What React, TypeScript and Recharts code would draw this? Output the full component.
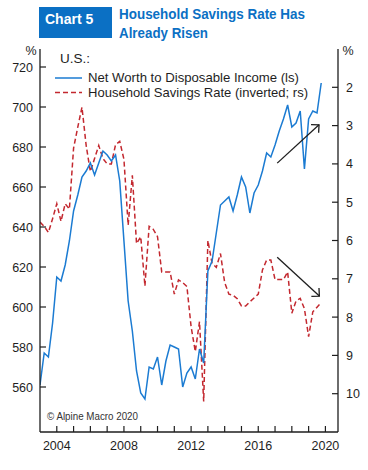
import React from 'react';
import { ComposedChart, Line, XAxis, YAxis, ReferenceLine } from 'recharts';

// quarterly, first point = 2003Q1
const START_YEAR = 2003;

// Net worth to disposable income, % (left scale)
const NET_WORTH = [
  561, 577, 575, 592, 615, 613, 621, 633,
  648, 656, 665, 668, 672, 666, 672, 678,
  676, 673, 676, 663, 633, 603, 588, 568,
  557, 554, 570, 569, 575, 561, 573, 581,
  580, 579, 560, 567, 570, 564, 579, 572,
  618, 623, 637, 651, 653, 655, 648, 656,
  665, 660, 647, 657, 661, 668, 677, 675,
  681, 688, 694, 701, 690, 692, 698, 669,
  694, 698, 697, 712,
];

// Household savings rate, % (right scale, inverted)
const SAVINGS_RATE = [
  5.52, 5.63, 5.79, 5.43, 5.04, 5.5, 5.04, 5.18,
  3.59, 3.04, 2.52, 3.52, 4.2, 3.86, 3.52, 3.86,
  4.0, 4.0, 3.5, 3.41, 3.88, 5.6, 4.3, 6.08,
  5.9, 7.19, 5.63, 5.71, 5.9, 6.82, 6.82, 6.82,
  7.4, 7.03, 7.1, 7.2, 8.25, 8.9, 8.12, 10.2,
  6.0, 6.6, 6.7, 6.34, 7.1, 7.4, 7.43, 7.52,
  7.71, 7.71, 7.6, 7.5, 7.4, 6.77, 6.51, 6.51,
  7.02, 7.02, 7.02, 6.82, 7.9, 7.58, 7.51, 7.78,
  8.51, 7.86, 7.74, 7.62,
];

const YEAR_TICKS = [2004, 2005, 2006, 2007, 2008, 2009, 2010, 2011, 2012, 2013, 2014, 2015, 2016, 2017, 2018, 2019, 2020];
const YEAR_LABELS = [2004, 2008, 2012, 2016, 2020];
const LEFT_TICKS = [560, 580, 600, 620, 640, 660, 680, 700, 720];
const RIGHT_TICKS = [2, 3, 4, 5, 6, 7, 8, 9, 10];

// trend arrows, drawn on the right scale: [x1, y1, x2, y2]
const ARROWS = [
  [2017.13, 3.98, 2019.62, 2.98],
  [2017.13, 6.44, 2019.64, 7.45],
];

const data = NET_WORTH.map((nw, i) => ({
  t: START_YEAR + i / 4,
  nw,
  sr: SAVINGS_RATE[i],
}));

const BLUE = '#1b7bd2';
const RED = '#c3282f';
const HEAD_BLUE = '#0b70c4';
const INK = '#1e1e1e';
const FONT = '"Liberation Sans", Arial, sans-serif';

const XTick = (p: any) => {
  const { x, y, payload } = p;
  const show = YEAR_LABELS.includes(payload.value);
  return (
    <g>
      <line x1={x} x2={x} y1={y} y2={y - 6} stroke={INK} strokeWidth={1.2} />
      {show && (
        <text x={x} y={y + 18} textAnchor="middle" fontSize={12.5} fill={INK} fontFamily={FONT}>
          {payload.value}
        </text>
      )}
    </g>
  );
};

const LeftTick = (p: any) => {
  const { x, y, payload } = p;
  return (
    <g>
      <line x1={x} x2={x + 6} y1={y} y2={y} stroke={INK} strokeWidth={1.2} />
      <text x={x - 7} y={y + 4.5} textAnchor="end" fontSize={12.5} fill={INK} fontFamily={FONT}>
        {payload.value}
      </text>
    </g>
  );
};

const RightTick = (p: any) => {
  const { x, y, payload } = p;
  return (
    <g>
      <line x1={x} x2={x - 6} y1={y} y2={y} stroke={INK} strokeWidth={1.2} />
      <text x={x + 8} y={y + 4.5} textAnchor="start" fontSize={12.5} fill={INK} fontFamily={FONT}>
        {payload.value}
      </text>
    </g>
  );
};

const Arrow = (p: any) => {
  const { x1, y1, x2, y2 } = p;
  const a = Math.atan2(y2 - y1, x2 - x1);
  const h = 8;
  const w = 0.78;
  const ax = x2 - h * Math.cos(a - w);
  const ay = y2 - h * Math.sin(a - w);
  const bx = x2 - h * Math.cos(a + w);
  const by = y2 - h * Math.sin(a + w);
  return (
    <g>
      <line x1={x1} y1={y1} x2={x2} y2={y2} stroke={INK} strokeWidth={1.3} />
      <polyline points={`${ax},${ay} ${x2},${y2} ${bx},${by}`} fill="none" stroke={INK} strokeWidth={1.3} />
    </g>
  );
};

const axisLine = { stroke: INK, strokeWidth: 1.3 };

export default function App() {
  return (
    <div style={{ position: 'absolute', left: 0, top: 0, width: 368, height: 470, background: '#fff', fontFamily: FONT }}>
      <ComposedChart width={368} height={470} data={data} margin={{ top: 49, right: 0, bottom: 18, left: 0 }}>
        <XAxis
          dataKey="t"
          type="number"
          domain={[2003, 2020.75]}
          allowDataOverflow
          ticks={YEAR_TICKS}
          interval={0}
          tickSize={0}
          tickMargin={0}
          height={20}
          axisLine={axisLine}
          tickLine={false}
          tick={XTick}
        />
        <XAxis
          xAxisId="top"
          orientation="top"
          dataKey="t"
          type="number"
          domain={[2003, 2020.75]}
          allowDataOverflow
          height={0}
          axisLine={axisLine}
          tickLine={false}
          tick={false}
        />
        <YAxis
          yAxisId="left"
          type="number"
          domain={[537.5, 729]}
          allowDataOverflow
          ticks={LEFT_TICKS}
          interval={0}
          width={40}
          tickSize={0}
          tickMargin={0}
          axisLine={axisLine}
          tickLine={false}
          tick={LeftTick}
        />
        <YAxis
          yAxisId="right"
          orientation="right"
          type="number"
          domain={[1, 11]}
          reversed
          allowDataOverflow
          ticks={RIGHT_TICKS}
          interval={0}
          width={30}
          tickSize={0}
          tickMargin={0}
          axisLine={axisLine}
          tickLine={false}
          tick={RightTick}
        />
        <Line
          yAxisId="right"
          type="linear"
          dataKey="sr"
          stroke={RED}
          strokeWidth={1.5}
          strokeDasharray="5 3"
          dot={false}
          isAnimationActive={false}
        />
        <Line
          yAxisId="left"
          type="linear"
          dataKey="nw"
          stroke={BLUE}
          strokeWidth={1.5}
          dot={false}
          isAnimationActive={false}
        />
        {ARROWS.map((a, i) => (
          <ReferenceLine
            key={i}
            yAxisId="right"
            segment={[{ x: a[0], y: a[1] }, { x: a[2], y: a[3] }]}
            shape={Arrow}
          />
        ))}
      </ComposedChart>

      <svg width={368} height={470} style={{ position: 'absolute', left: 0, top: 0, pointerEvents: 'none' }}>
        <rect x={39} y={7} width={73} height={31} fill={HEAD_BLUE} />
        <text x={45} y={24} fontSize={14} fontWeight="bold" fill="#fff" fontFamily={FONT}>Chart 5</text>
        <text x={119} y={19} fontSize={15} fontWeight="bold" fill={HEAD_BLUE} fontFamily={FONT}
          textLength={186} lengthAdjust="spacingAndGlyphs">Household Savings Rate Has</text>
        <text x={119} y={38} fontSize={15} fontWeight="bold" fill={HEAD_BLUE} fontFamily={FONT}
          textLength={89} lengthAdjust="spacingAndGlyphs">Already Risen</text>

        <text x={31} y={55} fontSize={12.5} textAnchor="middle" fill={INK} fontFamily={FONT}>%</text>
        <text x={348} y={55} fontSize={12.5} textAnchor="middle" fill={INK} fontFamily={FONT}>%</text>

        <text x={60} y={63} fontSize={13.5} fill={INK} fontFamily={FONT}>U.S.:</text>
        <line x1={55} x2={82} y1={78} y2={78} stroke={BLUE} strokeWidth={1.5} />
        <text x={88} y={82} fontSize={13.5} fill={INK} fontFamily={FONT}
          textLength={211} lengthAdjust="spacingAndGlyphs">Net Worth to Disposable Income (ls)</text>
        <line x1={55} x2={82} y1={92.5} y2={92.5} stroke={RED} strokeWidth={1.5} strokeDasharray="5 3" />
        <text x={88} y={97} fontSize={13.5} fill={INK} fontFamily={FONT}
          textLength={220} lengthAdjust="spacingAndGlyphs">Household Savings Rate (inverted; rs)</text>

        <text x={47} y={420} fontSize={10} fill="#333" fontFamily={FONT}
          textLength={91} lengthAdjust="spacingAndGlyphs">© Alpine Macro 2020</text>
      </svg>
    </div>
  );
}
